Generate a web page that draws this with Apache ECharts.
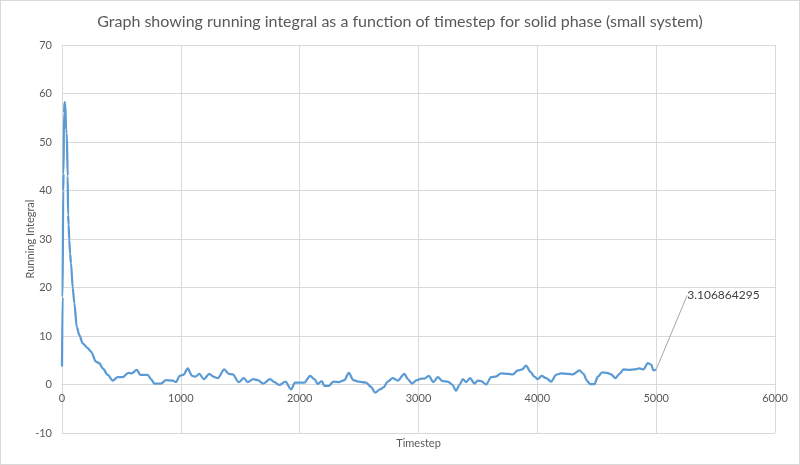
<!DOCTYPE html>
<html>
<head>
<meta charset="utf-8">
<script src="https://cdn.jsdelivr.net/npm/echarts@6/dist/echarts.min.js"></script>
<style>
    html, body {margin: 0; padding: 0; background: #fff;}
    #chart {width: 798px; height: 463px; border: 1px solid #d9d9d9;}
</style>
</head>
<body>
<div id="chart"></div>
<script>
const titleText = 'Graph showing running integral as a function of timestep for solid phase (small system)'

// timestep values
const timesteps = [
    0, 5, 10, 13, 17, 22, 28, 34, 40, 48, 51, 56, 61, 68, 76, 90, 104, 124, 146, 174,
    216, 244, 286, 314, 343, 385, 427, 469, 511, 558, 587, 629, 659, 721, 749, 777, 833, 875, 932, 960,
    990, 1021, 1058, 1094, 1122, 1156, 1193, 1240, 1274, 1311, 1366, 1403, 1437, 1487, 1529, 1563, 1610, 1647, 1694, 1751,
    1787, 1829, 1880, 1928, 1961, 2040, 2088, 2124, 2152, 2186, 2208, 2245, 2284, 2334, 2376, 2413, 2452, 2497, 2559, 2601,
    2635, 2677, 2705, 2741, 2784, 2826, 2881, 2910, 2946, 2986, 3022, 3050, 3087, 3125, 3162, 3205, 3247, 3283, 3316, 3344,
    3373, 3401, 3434, 3471, 3499, 3527, 3569, 3611, 3647, 3695, 3752, 3794, 3836, 3872, 3906, 3942, 3976, 4004, 4036, 4074,
    4116, 4158, 4200, 4257, 4299, 4355, 4388, 4417, 4444, 4481, 4509, 4545, 4585, 4621, 4657, 4691, 4725, 4775, 4817, 4859,
    4893, 4930, 4958, 4977, 5000
]
const integral = [
    3.7, 18, 40, 43.5, 56, 58.2, 57.8, 52.5, 52, 43, 35, 33, 29.8, 27, 25, 20, 16.8, 11.9, 10.2, 8.5,
    7.5, 6.8, 4.7, 4.4, 3.3, 2.0, 0.8, 1.5, 1.5, 2.4, 2.3, 3.0, 2.0, 2.0, 1.1, 0.2, 0.2, 0.9, 0.8, 0.5,
    1.8, 2.0, 3.3, 1.8, 1.6, 2.2, 1.1, 2.2, 1.6, 1.3, 3.1, 2.2, 2.1, 0.5, 1.3, 0.5, 1.1, 0.9, 0.2, 1.1,
    0.5, -0.1, 0.6, -1.0, 0.4, 0.4, 1.8, 1.1, 0.1, 0.7, -0.3, -0.3, 0.6, 0.5, 0.9, 2.4, 0.9, 0.6, 0.4, -0.5,
    -1.7, -1.0, -0.6, 0.6, 1.3, 0.8, 2.2, 1.1, 0.2, 0.9, 1.2, 1.2, 1.8, 0.5, 1.5, 0.7, 0.6, 0, -1.3, -0.1,
    1.1, 0.5, 1.3, 0.2, 0.8, 0.7, 0, 1.5, 1.6, 2.3, 2.2, 2.1, 2.9, 3.1, 3.9, 2.6, 1.6, 1.1, 1.8, 1.3,
    0.6, 2.0, 2.3, 2.2, 2.1, 2.9, 2.2, 0.8, 0.1, 0.1, 1.6, 2.5, 2.4, 2.1, 1.3, 2.2, 3.1, 3.0, 3.1, 3.3,
    3.1, 4.4, 4.1, 2.9, 3.106864295
]

const xTicks = {min: 0, max: 6000, interval: 1000}
const yTicks = {min: -10, max: 70, interval: 10}

const lastIndex = timesteps.length - 1
const seriesData = timesteps.map((t, i) => {
    if (i === lastIndex) {
        return {
            value: [t, integral[i]],
            label: {
                show: true,
                position: 'right',
                formatter: (p) => String(p.value[1])
            }
        }
    }
    return [t, integral[i]]
})

const axisText = {color: '#595959', fontSize: 11, fontFamily: 'Lato'}
const gridLine = {show: true, lineStyle: {color: '#d9d9d9', width: 1}}

const chart = echarts.init(document.getElementById('chart'))
chart.setOption({
    animation: false,
    title: {
        text: titleText,
        left: 'center',
        top: 8,
        textStyle: {color: '#595959', fontSize: 16, fontWeight: 'normal', fontFamily: 'Lato'}
    },
    grid: {left: 61, right: 24, top: 44, bottom: 31, outerBoundsMode: 'none'},
    xAxis: {
        type: 'value',
        ...xTicks,
        // Excel draws the horizontal axis where y = 0 (one step of 10 above the bottom)
        offset: -48.5,
        name: 'Timestep',
        nameLocation: 'middle',
        nameGap: 53,
        nameMoveOverlap: false,
        nameTextStyle: axisText,
        axisLine: {show: true, onZero: false, lineStyle: {color: '#d9d9d9', width: 1}},
        axisTick: {show: false},
        axisLabel: {...axisText, margin: 8, formatter: (v) => String(v)},
        splitLine: gridLine
    },
    yAxis: {
        type: 'value',
        ...yTicks,
        name: 'Running Integral',
        nameLocation: 'middle',
        nameGap: 26,
        nameMoveOverlap: false,
        nameTextStyle: axisText,
        axisLine: {show: false, onZero: false},
        axisTick: {show: false},
        axisLabel: {...axisText, margin: 10},
        splitLine: gridLine
    },
    series: [
        {
            type: 'line',
            data: seriesData,
            symbol: 'circle',
            symbolSize: 0,
            showSymbol: true,
            showAllSymbol: true,
            smooth: 0.3,
            smoothMonotone: 'x',
            lineStyle: {color: '#5b9bd5', width: 2.25},
            itemStyle: {color: '#5b9bd5'},
            label: {color: '#404040', fontSize: 12, fontFamily: 'Lato'},
            labelLine: {show: true, lineStyle: {color: '#a6a6a6', width: 1}},
            labelLayout: {dx: 26, dy: -74}
        }
    ]
})
</script>
</body>
</html>
